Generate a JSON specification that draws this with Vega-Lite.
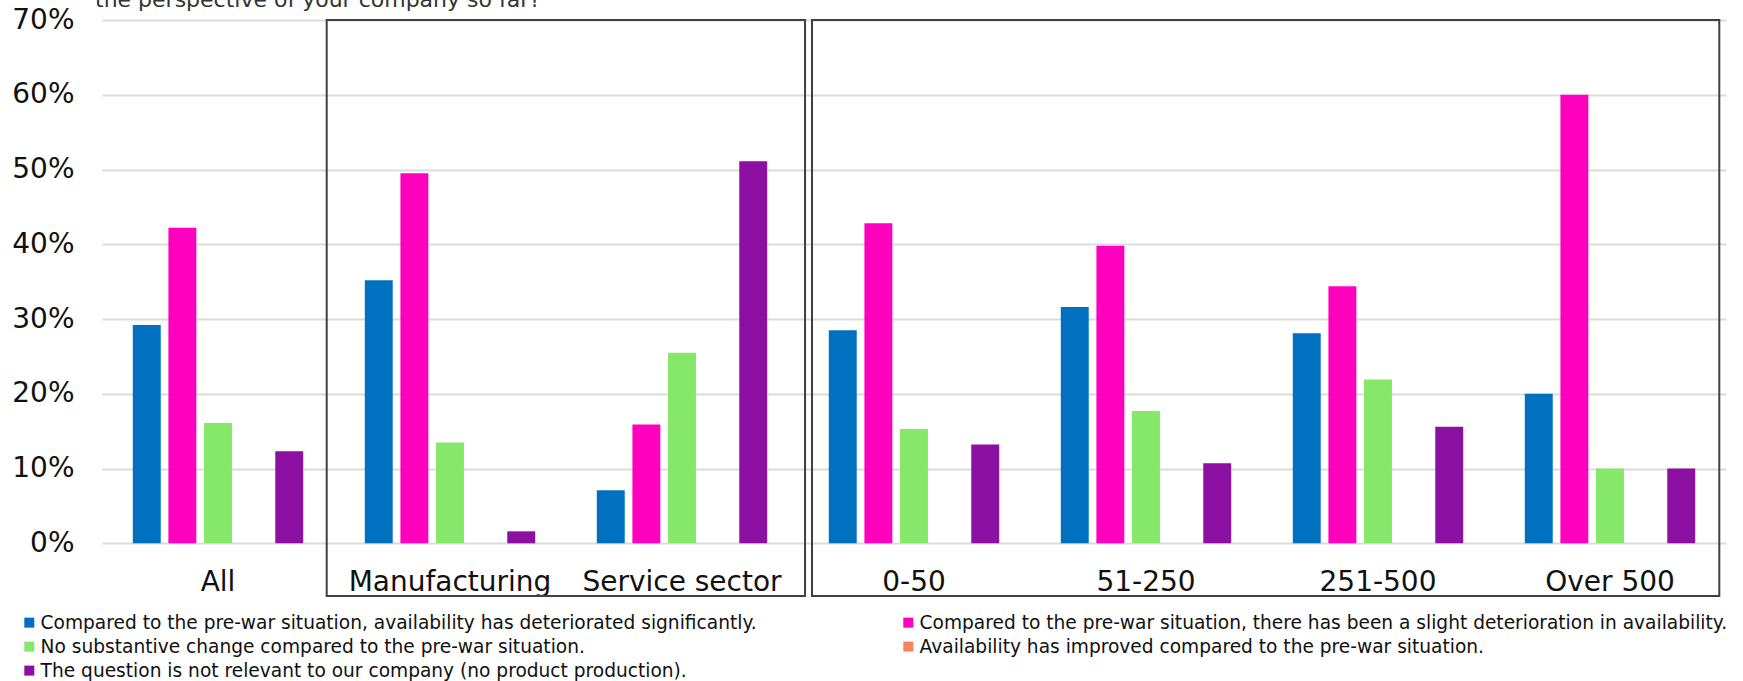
{
  "$schema": "https://vega.github.io/schema/vega-lite/v6.json",
  "width": 1624,
  "height": 523.3,
  "autosize": {"type": "none"},
  "padding": {"left": 102, "top": 20, "right": 17, "bottom": 137.7},
  "background": "white",
  "title": {
    "text": "the perspective of your company so far?",
    "anchor": "start",
    "frame": "group",
    "offset": -6,
    "dx": -7,
    "font": "DejaVu Sans",
    "fontSize": 22,
    "fontWeight": "normal",
    "color": "#333333"
  },
  "config": {
    "view": {"stroke": null},
    "axis": {
      "labelFont": "DejaVu Sans",
      "labelFontSize": 28,
      "labelColor": "#111111",
      "ticks": false,
      "domain": false,
      "title": null
    }
  },
  "datasets": {
    "answers": [
      {"group": "All", "answer": "Compared to the pre-war situation, availability has deteriorated significantly.", "share": 0.292},
      {"group": "All", "answer": "Compared to the pre-war situation, there has been a slight deterioration in availability.", "share": 0.422},
      {"group": "All", "answer": "No substantive change compared to the pre-war situation.", "share": 0.161},
      {"group": "All", "answer": "Availability has improved compared to the pre-war situation.", "share": 0},
      {"group": "All", "answer": "The question is not relevant to our company (no product production).", "share": 0.123},
      {"group": "Manufacturing", "answer": "Compared to the pre-war situation, availability has deteriorated significantly.", "share": 0.352},
      {"group": "Manufacturing", "answer": "Compared to the pre-war situation, there has been a slight deterioration in availability.", "share": 0.495},
      {"group": "Manufacturing", "answer": "No substantive change compared to the pre-war situation.", "share": 0.135},
      {"group": "Manufacturing", "answer": "Availability has improved compared to the pre-war situation.", "share": 0},
      {"group": "Manufacturing", "answer": "The question is not relevant to our company (no product production).", "share": 0.016},
      {"group": "Service sector", "answer": "Compared to the pre-war situation, availability has deteriorated significantly.", "share": 0.071},
      {"group": "Service sector", "answer": "Compared to the pre-war situation, there has been a slight deterioration in availability.", "share": 0.159},
      {"group": "Service sector", "answer": "No substantive change compared to the pre-war situation.", "share": 0.255},
      {"group": "Service sector", "answer": "Availability has improved compared to the pre-war situation.", "share": 0},
      {"group": "Service sector", "answer": "The question is not relevant to our company (no product production).", "share": 0.511},
      {"group": "0-50", "answer": "Compared to the pre-war situation, availability has deteriorated significantly.", "share": 0.285},
      {"group": "0-50", "answer": "Compared to the pre-war situation, there has been a slight deterioration in availability.", "share": 0.428},
      {"group": "0-50", "answer": "No substantive change compared to the pre-war situation.", "share": 0.153},
      {"group": "0-50", "answer": "Availability has improved compared to the pre-war situation.", "share": 0},
      {"group": "0-50", "answer": "The question is not relevant to our company (no product production).", "share": 0.132},
      {"group": "51-250", "answer": "Compared to the pre-war situation, availability has deteriorated significantly.", "share": 0.316},
      {"group": "51-250", "answer": "Compared to the pre-war situation, there has been a slight deterioration in availability.", "share": 0.398},
      {"group": "51-250", "answer": "No substantive change compared to the pre-war situation.", "share": 0.177},
      {"group": "51-250", "answer": "Availability has improved compared to the pre-war situation.", "share": 0},
      {"group": "51-250", "answer": "The question is not relevant to our company (no product production).", "share": 0.107},
      {"group": "251-500", "answer": "Compared to the pre-war situation, availability has deteriorated significantly.", "share": 0.281},
      {"group": "251-500", "answer": "Compared to the pre-war situation, there has been a slight deterioration in availability.", "share": 0.344},
      {"group": "251-500", "answer": "No substantive change compared to the pre-war situation.", "share": 0.219},
      {"group": "251-500", "answer": "Availability has improved compared to the pre-war situation.", "share": 0},
      {"group": "251-500", "answer": "The question is not relevant to our company (no product production).", "share": 0.156},
      {"group": "Over 500", "answer": "Compared to the pre-war situation, availability has deteriorated significantly.", "share": 0.2},
      {"group": "Over 500", "answer": "Compared to the pre-war situation, there has been a slight deterioration in availability.", "share": 0.6},
      {"group": "Over 500", "answer": "No substantive change compared to the pre-war situation.", "share": 0.1},
      {"group": "Over 500", "answer": "Availability has improved compared to the pre-war situation.", "share": 0},
      {"group": "Over 500", "answer": "The question is not relevant to our company (no product production).", "share": 0.1}
    ],
    "sectorPanel": [{"first": "Manufacturing", "last": "Service sector"}],
    "sizePanel": [{"first": "0-50", "last": "Over 500"}]
  },
  "layer": [
    {
      "data": {"name": "answers"},
      "mark": {"type": "bar"},
      "encoding": {
        "x": {
          "field": "group",
          "type": "nominal",
          "title": null,
          "scale": {
            "domain": ["All", "Manufacturing", "Service sector", "0-50", "51-250", "251-500", "Over 500"],
            "paddingInner": 0.2655,
            "paddingOuter": 0.13275
          },
          "axis": {"labelAngle": 0, "labelPadding": 25, "labelLimit": 400, "labelOverlap": false, "grid": false}
        },
        "xOffset": {
          "field": "answer",
          "type": "nominal",
          "scale": {
            "domain": [
              "Compared to the pre-war situation, availability has deteriorated significantly.",
              "Compared to the pre-war situation, there has been a slight deterioration in availability.",
              "No substantive change compared to the pre-war situation.",
              "Availability has improved compared to the pre-war situation.",
              "The question is not relevant to our company (no product production)."
            ],
            "paddingInner": 0.216,
            "paddingOuter": 0
          }
        },
        "y": {
          "field": "share",
          "type": "quantitative",
          "title": null,
          "scale": {"domain": [0, 0.7], "nice": false},
          "axis": {
            "values": [0, 0.1, 0.2, 0.3, 0.4, 0.5, 0.6, 0.7],
            "format": ".0%",
            "labelPadding": 28,
            "grid": true,
            "gridColor": "#DCDCE0",
            "gridWidth": 2
          }
        },
        "color": {
          "field": "answer",
          "type": "nominal",
          "scale": {
            "domain": [
              "Compared to the pre-war situation, availability has deteriorated significantly.",
              "Compared to the pre-war situation, there has been a slight deterioration in availability.",
              "No substantive change compared to the pre-war situation.",
              "Availability has improved compared to the pre-war situation.",
              "The question is not relevant to our company (no product production)."
            ],
            "range": ["#0070C0", "#FF00BF", "#86E86A", "#F8845F", "#8B0FA0"]
          },
          "legend": {
            "title": null,
            "orient": "none",
            "direction": "horizontal",
            "legendX": -82,
            "legendY": 593.3,
            "columns": 2,
            "columnPadding": 142,
            "rowPadding": 5,
            "padding": 0,
            "symbolType": "square",
            "symbolSize": 100,
            "symbolStrokeWidth": 0,
            "labelFont": "DejaVu Sans",
            "labelFontSize": 18.6,
            "labelColor": "#111111",
            "labelLimit": 1000,
            "labelOffset": 2
          }
        }
      }
    },
    {
      "data": {"name": "sectorPanel"},
      "mark": {"type": "rect", "filled": false, "stroke": "#404040", "strokeWidth": 2},
      "encoding": {
        "x": {"field": "first", "type": "nominal", "bandPosition": -0.2236},
        "x2": {"field": "last", "bandPosition": 1.222},
        "y": {"datum": 0.7, "type": "quantitative"},
        "y2": {"datum": -0.0705}
      }
    },
    {
      "data": {"name": "sizePanel"},
      "mark": {"type": "rect", "filled": false, "stroke": "#404040", "strokeWidth": 2},
      "encoding": {
        "x": {"field": "first", "type": "nominal", "bandPosition": -0.0986},
        "x2": {"field": "last", "bandPosition": 1.1414},
        "y": {"datum": 0.7, "type": "quantitative"},
        "y2": {"datum": -0.0705}
      }
    }
  ]
}
